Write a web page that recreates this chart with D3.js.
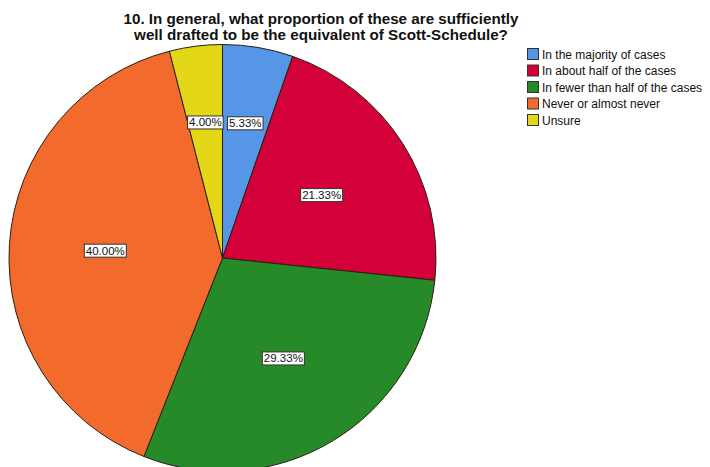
<!DOCTYPE html>
<html><head><meta charset="utf-8">
<script src="https://cdn.jsdelivr.net/npm/d3@7/dist/d3.min.js"></script>
<style>body{margin:0;background:#fff;} svg{display:block;}</style>
</head><body>
<svg id="c" width="710" height="467"></svg>
<script>
const titleLines = ["10. In general, what proportion of these are sufficiently", "well drafted to be the equivalent of Scott-Schedule?"];
const categories = ["In the majority of cases", "In about half of the cases", "In fewer than half of the cases", "Never or almost never", "Unsure"];
const values = [5.33, 21.33, 29.33, 40.00, 4.00];
const colors = ["#5596E6", "#D3003A", "#278A28", "#F26A2C", "#E3D718"];

const svg = d3.select("#c");
const cx = 222.5, cy = 258, R = 213.5;

svg.append("text").attr("text-anchor", "middle")
  .style("font-family", "Liberation Sans, Arial, sans-serif")
  .style("font-weight", "bold").style("font-size", "15.2px").attr("fill", "#111")
  .selectAll("tspan").data(titleLines).join("tspan")
  .attr("x", 321).attr("y", (d, i) => 24 + i * 15.5).text(d => d);

const pie = d3.pie().sort(null).value(d => d)(values);
const arc = d3.arc().innerRadius(0).outerRadius(R);
const g = svg.append("g").attr("transform", `translate(${cx},${cy})`);
g.selectAll("path").data(pie).join("path")
  .attr("d", arc).attr("fill", (d, i) => colors[i])
  .attr("stroke", "#2b1d12").attr("stroke-width", 1);

const fmt = v => v.toFixed(2) + "%";
const labels = g.selectAll("g.lab").data(pie).join("g").attr("class", "lab")
  .attr("transform", d => {
    const share = (d.endAngle - d.startAngle) / (2 * Math.PI);
    const rr = share < 0.1 ? R * 0.64 : R * 0.55;
    const a = (d.startAngle + d.endAngle) / 2;
    return `translate(${rr * Math.sin(a)},${-rr * Math.cos(a)})`;
  });
labels.each(function(d) {
  const sel = d3.select(this);
  const t = sel.append("text").attr("text-anchor", "middle").attr("dy", "0.35em")
    .style("font-family", "Liberation Sans, Arial, sans-serif").style("font-size", "11.5px")
    .attr("fill", "#111").text(fmt(d.data));
  const bb = t.node().getBBox();
  sel.insert("rect", "text").attr("x", bb.x - 1.5).attr("y", bb.y - 0.5)
    .attr("width", bb.width + 3).attr("height", bb.height + 1)
    .attr("fill", "#fff").attr("stroke", "#333").attr("stroke-width", 1);
});

const leg = svg.append("g").attr("transform", "translate(527,48)");
const rows = leg.selectAll("g").data(categories).join("g")
  .attr("transform", (d, i) => `translate(0,${i * 16.5})`);
rows.append("rect").attr("x", 0.5).attr("y", 0.5).attr("width", 11).attr("height", 11)
  .attr("fill", (d, i) => colors[i]).attr("stroke", "#333").attr("stroke-width", 1);
rows.append("text").attr("x", 15).attr("y", 10.5)
  .style("font-family", "Liberation Sans, Arial, sans-serif").style("font-size", "12px")
  .attr("fill", "#111").text(d => d);
</script>
</body></html>
